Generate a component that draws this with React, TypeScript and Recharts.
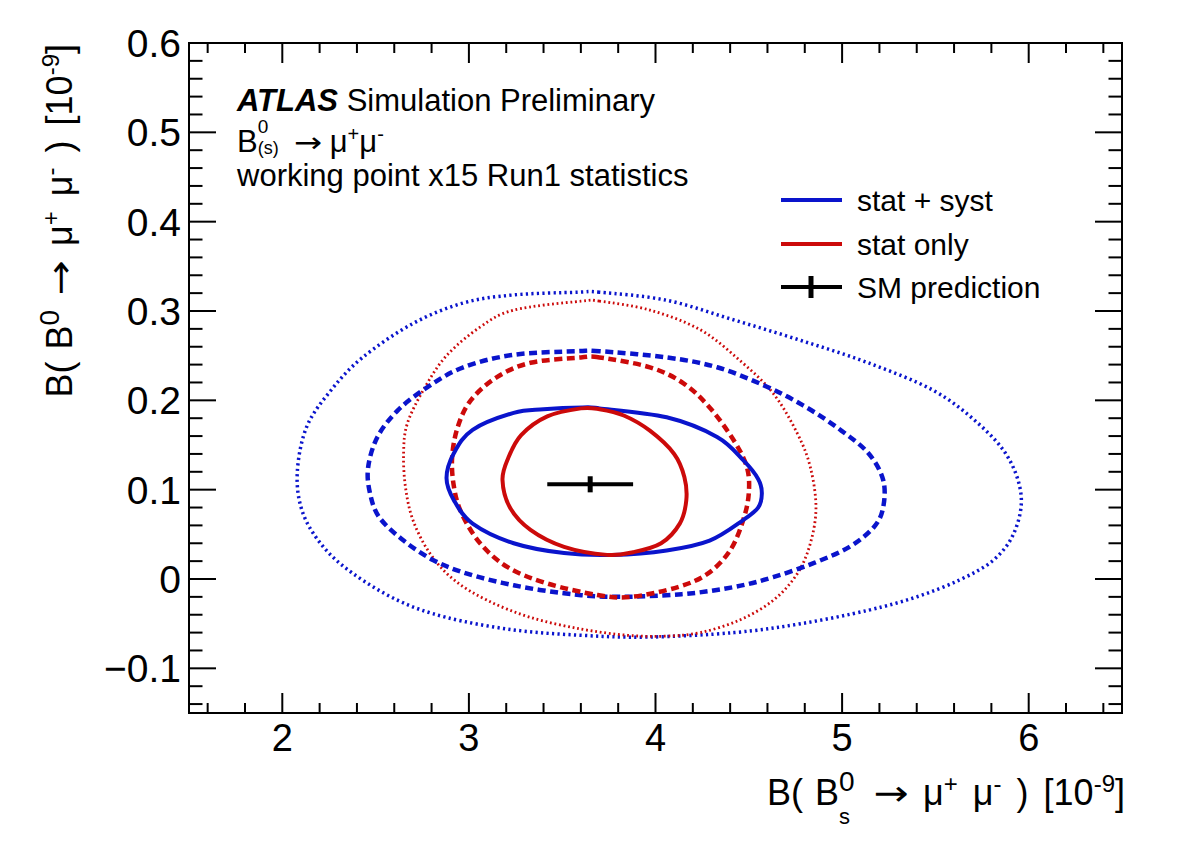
import React from "react";
import { ComposedChart, Line, Scatter, ErrorBar, XAxis, YAxis, ReferenceArea } from "recharts";

const FONT = '"Liberation Sans", Arial, Helvetica, sans-serif';
const BLUE = "#0a14cc";
const RED = "#cc0a0a";

const W = 1182;
const H = 850;
const MARGIN = { top: 43, right: 60, bottom: 0, left: 0 };
const Y_AXIS_W = 189;
const X_AXIS_H = 137;
const PLOT_W = W - Y_AXIS_W - MARGIN.right;
const PLOT_H = H - MARGIN.top - X_AXIS_H;

const xDomain = [1.5, 6.5];
const yDomain = [-0.15, 0.6];
const xMajorTicks = [2, 3, 4, 5, 6];
const yMajorTicks = [-0.1, 0, 0.1, 0.2, 0.3, 0.4, 0.5, 0.6];

// contours in (B(Bs->mumu), B(B0->mumu)), units of 1e-9
const statSyst1 = [
  [3.7, 0.191], [3.61, 0.192], [3.4, 0.19], [3.24, 0.186], [3.02, 0.167], [2.92, 0.141],
  [2.88, 0.113], [2.92, 0.088], [3.02, 0.062], [3.24, 0.04], [3.51, 0.029], [3.77, 0.027],
  [4.06, 0.032], [4.29, 0.043], [4.47, 0.066], [4.55, 0.08], [4.57, 0.096], [4.55, 0.112],
  [4.47, 0.133], [4.33, 0.159], [4.06, 0.181],
];
const statSyst2 = [
  [3.7, 0.255], [3.58, 0.255], [3.24, 0.251], [2.97, 0.237], [2.78, 0.215], [2.62, 0.189],
  [2.51, 0.159], [2.46, 0.125], [2.47, 0.096], [2.52, 0.069], [2.65, 0.043], [2.81, 0.021],
  [2.99, 0.006], [3.24, -0.007], [3.51, -0.016], [3.77, -0.02], [4.14, -0.017], [4.42, -0.009],
  [4.63, 0.002], [4.85, 0.018], [5.04, 0.036], [5.17, 0.058], [5.22, 0.08], [5.22, 0.111],
  [5.14, 0.141], [4.99, 0.167], [4.81, 0.192], [4.6, 0.215], [4.33, 0.237], [4.06, 0.248],
];
const statSyst3 = [
  [3.7, 0.321], [3.58, 0.321], [3.24, 0.318], [2.97, 0.309], [2.7, 0.286], [2.43, 0.248],
  [2.26, 0.211], [2.13, 0.17], [2.08, 0.118], [2.11, 0.074], [2.22, 0.036], [2.38, 0.006],
  [2.62, -0.024], [2.88, -0.043], [3.24, -0.057], [3.6, -0.063], [3.96, -0.065], [4.42, -0.06],
  [4.78, -0.05], [5.14, -0.035], [5.4, -0.02], [5.63, -0.001], [5.81, 0.021], [5.92, 0.051],
  [5.96, 0.092], [5.89, 0.136], [5.73, 0.174], [5.49, 0.211], [5.14, 0.242], [4.78, 0.267],
  [4.42, 0.29], [4.06, 0.312],
];
const statOnly1 = [
  [3.7, 0.19], [3.6, 0.191], [3.42, 0.182], [3.28, 0.161], [3.21, 0.135], [3.18, 0.111],
  [3.22, 0.08], [3.33, 0.055], [3.51, 0.036], [3.74, 0.027], [3.88, 0.03], [4.03, 0.04],
  [4.13, 0.062], [4.165, 0.088], [4.155, 0.114], [4.1, 0.14], [3.97, 0.166], [3.83, 0.183],
];
const statOnly2 = [
  [3.7, 0.248], [3.6, 0.248], [3.33, 0.242], [3.15, 0.226], [3.01, 0.2], [2.94, 0.17],
  [2.91, 0.136], [2.92, 0.103], [2.96, 0.074], [3.06, 0.04], [3.21, 0.013], [3.42, -0.005],
  [3.69, -0.018], [3.87, -0.02], [4.12, -0.009], [4.28, 0.006], [4.4, 0.032], [4.47, 0.066],
  [4.5, 0.096], [4.49, 0.125], [4.42, 0.155], [4.29, 0.192], [4.15, 0.219], [3.97, 0.237],
];
const statOnly3 = [
  [3.7, 0.311], [3.6, 0.311], [3.24, 0.301], [3.06, 0.282], [2.88, 0.25], [2.76, 0.213],
  [2.67, 0.174], [2.65, 0.141], [2.66, 0.103], [2.7, 0.066], [2.79, 0.029], [2.92, -0.001],
  [3.1, -0.024], [3.33, -0.043], [3.6, -0.056], [3.85, -0.063], [4.05, -0.064], [4.24, -0.06],
  [4.45, -0.046], [4.63, -0.024], [4.76, 0.006], [4.83, 0.04], [4.86, 0.08], [4.83, 0.125],
  [4.76, 0.163], [4.63, 0.208], [4.45, 0.245], [4.24, 0.279], [3.97, 0.301],
];

const smPrediction = [{ x: 3.65, y: 0.106, ex: 0.23, ey: 0.009 }];

const toPoints = (pts: number[][]) => pts.map(([x, y]) => ({ x, y }));

// closed Catmull-Rom curve, so each contour is a smooth loop through its points
function closedCatmullRom(context: any) {
  let pts: number[][] = [];
  return {
    areaStart() {},
    areaEnd() {},
    lineStart() {
      pts = [];
    },
    point(x: number, y: number) {
      pts.push([x, y]);
    },
    lineEnd() {
      const n = pts.length;
      if (!n) return;
      context.moveTo(pts[0][0], pts[0][1]);
      for (let i = 0; i < n; i++) {
        const p0 = pts[(i - 1 + n) % n];
        const p1 = pts[i];
        const p2 = pts[(i + 1) % n];
        const p3 = pts[(i + 2) % n];
        context.bezierCurveTo(
          p1[0] + (p2[0] - p0[0]) / 6,
          p1[1] + (p2[1] - p0[1]) / 6,
          p2[0] - (p3[0] - p1[0]) / 6,
          p2[1] - (p3[1] - p1[1]) / 6,
          p2[0],
          p2[1]
        );
      }
      context.closePath();
    },
  };
}

// minor divisions between majors, also filling the edges of the domain
function minorTicks(majors: number[], domain: number[], n: number) {
  const step = (majors[1] - majors[0]) / n;
  const out: number[] = [];
  for (let v = majors[0] - step; v > domain[0] + 1e-9; v -= step) out.push(+v.toFixed(4));
  majors.forEach((m) => {
    for (let i = 1; i < n; i++) {
      const v = +(m + i * step).toFixed(4);
      if (v < domain[1] - 1e-9) out.push(v);
    }
  });
  return out;
}
const xMinorTicks = minorTicks(xMajorTicks, xDomain, 5);
const yMinorTicks = minorTicks(yMajorTicks, yDomain, 5);

const contours = [
  { data: statSyst3, color: BLUE, width: 3.5, dash: "2.2 3.3" },
  { data: statOnly3, color: RED, width: 2.8, dash: "1.8 2.8" },
  { data: statSyst2, color: BLUE, width: 4.5, dash: "8 4.5" },
  { data: statOnly2, color: RED, width: 4.5, dash: "8 4.5" },
  { data: statSyst1, color: BLUE, width: 4 },
  { data: statOnly1, color: RED, width: 4 },
];

const isMajor = (list: number[], v: number) => list.some((m) => Math.abs(m - v) < 1e-6);

function XTick(props: any) {
  const { x, y, payload } = props;
  const major = isMajor(xMajorTicks, payload.value);
  const len = major ? 20 : 10;
  return (
    <g>
      <line x1={x} x2={x} y1={y} y2={y - len} stroke="#000" strokeWidth={2} />
      <line x1={x} x2={x} y1={y - PLOT_H} y2={y - PLOT_H + len} stroke="#000" strokeWidth={2} />
      {major && (
        <text x={x} y={y + 38} textAnchor="middle" fontSize={38} fontFamily={FONT} fill="#000">
          {payload.value}
        </text>
      )}
    </g>
  );
}

function YTick(props: any) {
  const { x, y, payload } = props;
  const v = payload.value;
  const major = isMajor(yMajorTicks, v);
  const len = major ? 27 : 13.5;
  const label = Math.abs(v) < 1e-9 ? "0" : v < 0 ? "\u2212" + Math.abs(v) : String(v);
  return (
    <g>
      <line x1={x} x2={x + len} y1={y} y2={y} stroke="#000" strokeWidth={2} />
      <line x1={x + PLOT_W} x2={x + PLOT_W - len} y1={y} y2={y} stroke="#000" strokeWidth={2} />
      {major && (
        <text x={x - 8} y={y + 14} textAnchor="end" fontSize={39} fontFamily={FONT} fill="#000">
          {label}
        </text>
      )}
    </g>
  );
}

// baseline-anchored text helpers (line-height 1 puts the baseline at 0.8465em)
const BL = 0.8465;
function Sup({ children, size, raise }: any) {
  return <span style={{ position: "relative", top: -raise, fontSize: size, lineHeight: 1 }}>{children}</span>;
}
function Stack({ sup, sub, supSize, subSize, raise, drop, width }: any) {
  return (
    <span style={{ position: "relative", display: "inline-block", width }}>
      <span style={{ position: "absolute", left: 0, top: -raise - BL * supSize, fontSize: supSize, lineHeight: 1 }}>{sup}</span>
      <span style={{ position: "absolute", left: 0, top: drop - BL * subSize, fontSize: subSize, lineHeight: 1 }}>{sub}</span>
    </span>
  );
}
const Gap = ({ w }: { w: number }) => <span style={{ display: "inline-block", width: w }} />;
function Arrow({ size, width }: any) {
  return (
    <span
      style={{
        display: "inline-block",
        width,
        textAlign: "center",
        fontFamily: '"DejaVu Sans", sans-serif',
        fontSize: size,
        lineHeight: 1,
        transform: "scaleX(1.2)",
      }}
    >
      →
    </span>
  );
}
const textAt = (left: number, baseline: number, size: number): React.CSSProperties => ({
  position: "absolute",
  left,
  top: baseline - BL * size,
  fontSize: size,
  lineHeight: 1,
  whiteSpace: "nowrap",
});

// the two axis titles share this tail: → μ+ μ- ) [10^-9]
function TitleTail() {
  return (
    <>
      <Gap w={15} />
      <Arrow size={35} width={34} />
      <Gap w={15} />μ<Sup size={24} raise={13}>+</Sup>
      <Gap w={15} />μ<Sup size={24} raise={13}>-</Sup>
      <Gap w={15} />)<Gap w={15} />[10<Sup size={24} raise={13}>-9</Sup>]
    </>
  );
}

function Annotations() {
  return (
    <div style={{ position: "absolute", left: 0, top: 0, width: W, height: H, fontFamily: FONT, color: "#000", pointerEvents: "none" }}>
      <div style={textAt(237, 111, 31)}>
        <b><i>ATLAS</i></b> Simulation Preliminary
      </div>
      <div style={textAt(237, 152.7, 31)}>
        B<Stack sup="0" sub="(s)" supSize={19} subSize={18} raise={19} drop={1.8} width={26} />
        <Gap w={10} />
        <Arrow size={28} width={28} />
        <Gap w={8} />μ<Sup size={20} raise={11}>+</Sup>μ<Sup size={20} raise={11}>-</Sup>
      </div>
      <div style={textAt(237, 186.7, 31)}>working point x15 Run1 statistics</div>

      <svg width={W} height={H} style={{ position: "absolute", left: 0, top: 0 }}>
        <line x1={781} x2={842} y1={200} y2={200} stroke={BLUE} strokeWidth={4} />
        <line x1={781} x2={842} y1={244} y2={244} stroke={RED} strokeWidth={4} />
        <line x1={781} x2={842} y1={287} y2={287} stroke="#000" strokeWidth={4} />
        <line x1={811} x2={811} y1={276} y2={298} stroke="#000" strokeWidth={5} />
        <text x={857} y={210.5} fontSize={30} fontFamily={FONT}>stat + syst</text>
        <text x={857} y={254.5} fontSize={30} fontFamily={FONT}>stat only</text>
        <text x={857} y={297.5} fontSize={30} fontFamily={FONT}>SM prediction</text>
      </svg>

      <div style={{ ...textAt(0, 805, 36), left: "auto", right: W - 1125 }}>
        B(<Gap w={12} />B<Stack sup="0" sub="s" supSize={28} subSize={22} raise={13} drop={20} width={20} />
        <TitleTail />
      </div>

      <div
        style={{
          ...textAt(72 - BL * 36, 0, 36),
          top: 44 + 460,
          width: 460,
          textAlign: "right",
          transformOrigin: "0 0",
          transform: "rotate(-90deg)",
        }}
      >
        B(<Gap w={12} />B<Sup size={28} raise={13}>0</Sup>
        <TitleTail />
      </div>
    </div>
  );
}

export default function App() {
  return (
    <div style={{ position: "absolute", left: 0, top: 0, width: W, height: H, background: "#fff" }}>
      <ComposedChart width={W} height={H} margin={MARGIN}>
        <XAxis
          type="number"
          dataKey="x"
          domain={xDomain}
          allowDataOverflow
          ticks={[...xMinorTicks, ...xMajorTicks].sort((a, b) => a - b)}
          interval={0}
          tick={<XTick />}
          tickSize={0}
          tickMargin={0}
          tickLine={false}
          axisLine={false}
          height={X_AXIS_H}
        />
        <YAxis
          type="number"
          dataKey="y"
          domain={yDomain}
          allowDataOverflow
          ticks={[...yMinorTicks, ...yMajorTicks].sort((a, b) => a - b)}
          interval={0}
          tick={<YTick />}
          tickSize={0}
          tickMargin={0}
          tickLine={false}
          axisLine={false}
          width={Y_AXIS_W}
        />
        {contours.map((c, i) => (
          <Line
            key={i}
            data={toPoints(c.data)}
            dataKey="y"
            type={closedCatmullRom as any}
            stroke={c.color}
            strokeWidth={c.width}
            strokeDasharray={c.dash}
            dot={false}
            activeDot={false}
            legendType="none"
            isAnimationActive={false}
          />
        ))}
        <Scatter data={smPrediction} dataKey="y" shape={() => <g />} isAnimationActive={false} legendType="none">
          <ErrorBar dataKey="ex" direction="x" width={0} stroke="#000" strokeWidth={4} isAnimationActive={false} />
          <ErrorBar dataKey="ey" direction="y" width={0} stroke="#000" strokeWidth={5} isAnimationActive={false} />
        </Scatter>
        <ReferenceArea
          x1={xDomain[0]}
          x2={xDomain[1]}
          y1={yDomain[0]}
          y2={yDomain[1]}
          fill="none"
          stroke="#000"
          strokeWidth={2}
          ifOverflow="visible"
        />
      </ComposedChart>
      <Annotations />
    </div>
  );
}
